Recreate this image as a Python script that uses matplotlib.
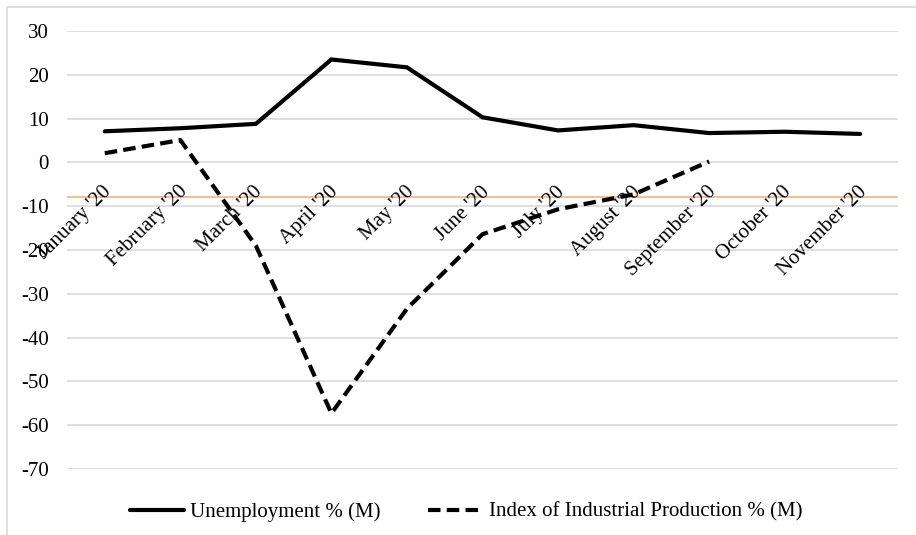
import matplotlib
matplotlib.use("Agg")
import matplotlib.pyplot as plt
from matplotlib.patches import Rectangle

plt.rcParams['font.family'] = ['Liberation Serif', 'DejaVu Serif']

months = ["January '20", "February '20", "March '20", "April '20", "May '20",
          "June '20", "July '20", "August '20", "September '20",
          "October '20", "November '20"]
unemployment = [7.1, 7.8, 8.8, 23.5, 21.7, 10.3, 7.3, 8.5, 6.7, 7.0, 6.5]
iip = [2.1, 5.1, -19.0, -57.3, -33.4, -16.4, -10.7, -7.3, 0.2]
yticks = [30, 20, 10, 0, -10, -20, -30, -40, -50, -60, -70]
axis_cross = -8

W, H = 916, 535
fig = plt.figure(figsize=(W / 100, H / 100), dpi=100)
ax = fig.add_axes([67 / W, 1 - 469 / H, (898 - 67) / W, (469 - 31) / H])

# light chart border (only left and top are visible in the crop)
fig.patches.append(Rectangle((7 / W, -0.5), 2, 1.5 - 7 / H, transform=fig.transFigure,
                             fill=False, edgecolor='#d9d9d9', linewidth=1.2))

x = list(range(len(months)))
ax.set_xlim(-0.5, len(months) - 0.5)
ax.set_ylim(-70, 30)
ax.set_yticks(yticks)
ax.set_yticklabels([str(v) for v in yticks])
ax.yaxis.grid(True, color='#d9d9d9', linewidth=1.2)
ax.set_axisbelow(True)
ax.set_xticks([])
ax.tick_params(axis='y', length=0, pad=13, labelsize=15)
for s in ax.spines.values():
    s.set_visible(False)

ax.axhline(axis_cross, color='#f4b183', linewidth=1.2, zorder=1)

for i, m in enumerate(months):
    ax.annotate(m, xy=(i, axis_cross), xycoords='data',
                xytext=(3, 6), textcoords='offset points',
                ha='right', va='center', rotation=45, rotation_mode='anchor',
                fontsize=15, zorder=2)

l1, = ax.plot(x, unemployment, color='black', linewidth=3.0,
              solid_capstyle='round', solid_joinstyle='miter', zorder=3,
              label='Unemployment % (M)')
l2, = ax.plot(x[:len(iip)], iip, color='black', linewidth=3.0,
              linestyle=(0, (3.0, 1.5)), zorder=3,
              label='Index of Industrial Production % (M)')

fig.legend(handles=[l1, l2], loc='center', bbox_to_anchor=(466 / W, 1 - 512 / H),
           ncol=2, frameon=False, fontsize=15, handlelength=2.6,
           handletextpad=0.3, columnspacing=2.3)

fig.savefig('out.png', dpi=100)
